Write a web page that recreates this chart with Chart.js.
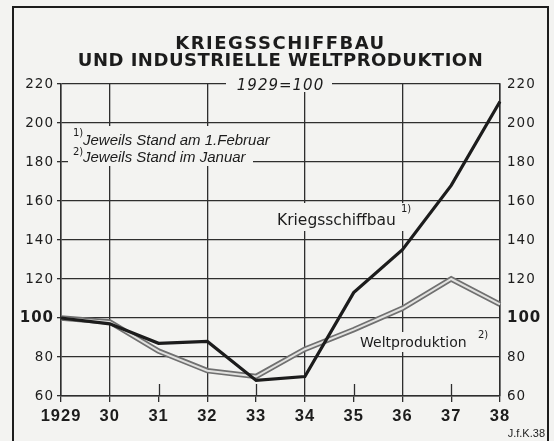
<!DOCTYPE html>
<html>
<head>
<meta charset="utf-8">
<script src="https://cdn.jsdelivr.net/npm/chart.js@4/dist/chart.umd.min.js"></script>
<style>
  html, body { margin: 0; padding: 0; background: #f3f3f1; }
  canvas { display: block; }
</style>
</head>
<body>
<canvas id="chart" width="554" height="441"></canvas>
<script>
// ── Data ──────────────────────────────────────────────────────────────────
const years = ['1929', '30', '31', '32', '33', '34', '35', '36', '37', '38'];
const kriegsschiffbau = [100, 97, 87, 88, 68, 70, 113, 135, 168, 211];
const weltproduktion = [100, 98, 83, 73, 70, 84, 94, 105, 120, 107];
const yMin = 60, yMax = 220, yStep = 20;

const PAPER = '#f3f3f1';
const INK = '#1c1c1c';
const GRID = '#2e2e2e';

// full vertical rules at the frame and every second year (30, 32, ...)
const isFullRule = (i) => i === 0 || i === years.length - 1 || i % 2 === 1;

// ── Paper, frame and annotations ──────────────────────────────────────────
const paper = {
  id: 'paper',
  beforeDraw(chart) {
    const c = chart.ctx;
    c.save();
    c.fillStyle = PAPER;
    c.fillRect(0, 0, chart.width, chart.height);
    c.restore();
    // axis numbers in the original are set with wide spacing
    c.letterSpacing = '1px';
  },
  afterDraw(chart) {
    const c = chart.ctx;
    c.save();
    c.letterSpacing = '0px';
    c.strokeStyle = INK;
    c.lineWidth = 2;
    c.strokeRect(13, 7, 535, 460);
    c.fillStyle = INK;
    c.font = '11px "Liberation Sans Narrow", "Liberation Sans", sans-serif';
    c.textAlign = 'right';
    c.fillText('J.f.K.38', 545, 437);
    c.restore();
  }
};

function box(c, x, y, w, h) {
  c.fillStyle = PAPER;
  c.fillRect(x, y, w, h);
}

const notes = {
  id: 'notes',
  beforeDatasetsDraw(chart) {
    const c = chart.ctx;
    const xs = chart.scales.x;
    const area = chart.chartArea;
    c.letterSpacing = '0px';
    c.save();

    // short inner ticks for 31, 33, 35, 37
    c.strokeStyle = GRID;
    c.lineWidth = 1.3;
    years.forEach((_, i) => {
      if (!isFullRule(i)) {
        const px = Math.round(xs.getPixelForTick(i)) + 0.5;
        c.beginPath();
        c.moveTo(px, area.bottom - 12);
        c.lineTo(px, area.bottom);
        c.stroke();
      }
    });

    c.fillStyle = INK;
    const cx = (area.left + area.right) / 2;

    // title
    c.textAlign = 'center';
    c.font = 'bold 18px "DejaVu Sans", sans-serif';
    c.letterSpacing = '1.5px';
    c.fillText('KRIEGSSCHIFFBAU', cx, 49);
    c.letterSpacing = '0.5px';
    c.fillText('UND INDUSTRIELLE WELTPRODUKTION', cx, 66);
    box(c, 226, 76, 106, 16);
    c.fillStyle = INK;
    c.letterSpacing = '1px';
    c.font = 'oblique 15px "DejaVu Sans", sans-serif';
    c.fillText('1929=100', cx, 90);
    c.letterSpacing = '0px';

    // footnotes
    box(c, 68, 126, 185, 34);
    box(c, 68, 160, 185, 6);
    c.fillStyle = INK;
    c.textAlign = 'left';
    c.font = '10px "DejaVu Sans", sans-serif';
    c.fillText('1)', 73, 136);
    c.fillText('2)', 73, 155);
    c.font = 'italic 15px "Liberation Sans", sans-serif';
    c.fillText('Jeweils Stand am 1.Februar', 83, 145);
    c.fillText('Jeweils Stand im Januar', 83, 162);

    // series labels
    box(c, 272, 203, 142, 28);
    c.fillStyle = INK;
    c.font = '15.5px "DejaVu Sans", sans-serif';
    c.fillText('Kriegsschiffbau', 277, 225);
    c.font = '10px "DejaVu Sans", sans-serif';
    c.fillText('1)', 401, 212);

    box(c, 356, 332, 136, 20);
    c.fillStyle = INK;
    c.font = '14px "DejaVu Sans", sans-serif';
    c.fillText('Weltproduktion', 360, 347);
    c.font = '10px "DejaVu Sans", sans-serif';
    c.fillText('2)', 478, 338);

    c.restore();
  }
};

// ── Scales ────────────────────────────────────────────────────────────────
const yTickFont = (ctx) => (ctx.tick && ctx.tick.value === 100)
  ? { family: '"DejaVu Sans", sans-serif', size: 15, weight: 'bold' }
  : { family: '"DejaVu Sans", sans-serif', size: 13.5 };

function yAxis(position, width) {
  return {
    position,
    min: yMin,
    max: yMax,
    afterFit: (s) => { s.width = width; },
    border: { display: true, color: GRID, width: 1.5 },
    grid: {
      display: position === 'left',
      color: GRID,
      lineWidth: 1.3,
      tickLength: 4,
      tickColor: GRID
    },
    ticks: {
      stepSize: yStep,
      padding: 3,
      color: INK,
      font: yTickFont
    }
  };
}

new Chart(document.getElementById('chart'), {
  type: 'line',
  data: {
    labels: years,
    datasets: [
      {
        label: 'Kriegsschiffbau',
        data: kriegsschiffbau,
        borderColor: INK,
        borderWidth: 3.2,
        pointRadius: 0,
        tension: 0,
        order: 0
      },
      {
        label: 'Weltproduktion (innen)',
        data: weltproduktion,
        borderColor: '#e2e2e0',
        borderWidth: 2,
        pointRadius: 0,
        tension: 0,
        order: 1
      },
      {
        label: 'Weltproduktion',
        data: weltproduktion,
        borderColor: '#707070',
        borderWidth: 5.5,
        pointRadius: 0,
        tension: 0,
        order: 2
      }
    ]
  },
  options: {
    responsive: false,
    animation: false,
    layout: { padding: { top: 84, left: 0, right: 0, bottom: 0 } },
    plugins: {
      legend: { display: false },
      title: { display: false },
      tooltip: { enabled: false }
    },
    scales: {
      x: {
        afterFit: (s) => { s.height = 45; },
        border: { display: true, color: GRID, width: 1.5 },
        grid: {
          color: (ctx) => (isFullRule(ctx.index) ? GRID : 'transparent'),
          lineWidth: 1.3,
          tickLength: 6,
          tickColor: GRID
        },
        ticks: {
          autoSkip: false,
          maxRotation: 0,
          padding: 5,
          color: INK,
          font: { family: '"Liberation Sans", sans-serif', size: 16.5, weight: 'bold' }
        }
      },
      y: yAxis('left', 61),
      y2: yAxis('right', 54)
    }
  },
  plugins: [paper, notes]
});
</script>
</body>
</html>
